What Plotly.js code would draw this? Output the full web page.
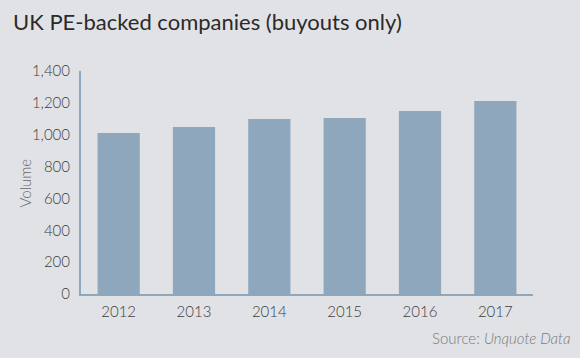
<!DOCTYPE html>
<html>
<head>
<meta charset="utf-8">
<script src="https://cdn.plot.ly/plotly-3.0.1.min.js"></script>
<style>
html,body{margin:0;padding:0;background:#e1e2e6;}
#chart{width:580px;height:358px;}
</style>
</head>
<body>
<div id="chart"></div>
<script>
const years = ['2012', '2013', '2014', '2015', '2016', '2017'];
const volumes = [1011, 1048, 1098, 1105, 1149, 1211];
const yTicks = [0, 200, 400, 600, 800, 1000, 1200, 1400];
const yTickLabels = ['0', '200', '400', '600', '800', '1,000', '1,200', '1,400'];

const data = [{
  type: 'bar',
  x: years,
  y: volumes,
  marker: {color: '#8ea7bc', line: {width: 0}},
  hoverinfo: 'x+y'
}];

const tickFont = {family: 'Lato, sans-serif', size: 15, color: '#3c3c3c', weight: 300};

const layout = {
  width: 580,
  height: 358,
  paper_bgcolor: '#e1e2e6',
  plot_bgcolor: '#e1e2e6',
  margin: {l: 81, r: 47, t: 71, b: 64},
  bargap: 0.44,
  font: {family: 'Lato, sans-serif', color: '#444', size: 15},
  title: {
    text: 'UK PE-backed companies (buyouts only)',
    font: {family: 'Lato, sans-serif', size: 22, color: '#2a2a2a'},
    x: 13 / 580, xanchor: 'left', xref: 'container',
    y: 0.96, yanchor: 'top', yref: 'container'
  },
  xaxis: {
    type: 'category',
    showgrid: false,
    showline: true,
    linecolor: '#8ea7bc',
    linewidth: 2,
    ticks: '',
    ticklabelstandoff: 3,
    tickfont: tickFont,
    zeroline: false,
    fixedrange: true
  },
  yaxis: {
    range: [0, 1400],
    tickvals: yTicks,
    ticktext: yTickLabels,
    showgrid: false,
    showline: true,
    linecolor: '#8ea7bc',
    linewidth: 2,
    ticks: '',
    ticklabelstandoff: 6,
    zeroline: false,
    tickfont: tickFont,
    fixedrange: true
  },
  annotations: [
    {
      text: 'Volume',
      xref: 'paper', yref: 'paper',
      x: -0.124, y: 0.5,
      xanchor: 'center', yanchor: 'middle',
      textangle: -90,
      showarrow: false,
      font: {family: 'Lato, sans-serif', size: 15, color: '#666', weight: 300}
    },
    {
      text: 'Source: <i>Unquote Data</i>',
      xref: 'paper', yref: 'paper',
      x: 1.088, y: -0.15,
      xanchor: 'right', yanchor: 'top',
      showarrow: false,
      font: {family: 'Lato, sans-serif', size: 15, color: '#7a7a7a', weight: 300}
    }
  ]
};

Plotly.newPlot('chart', data, layout, {displayModeBar: false, staticPlot: true});
</script>
</body>
</html>
